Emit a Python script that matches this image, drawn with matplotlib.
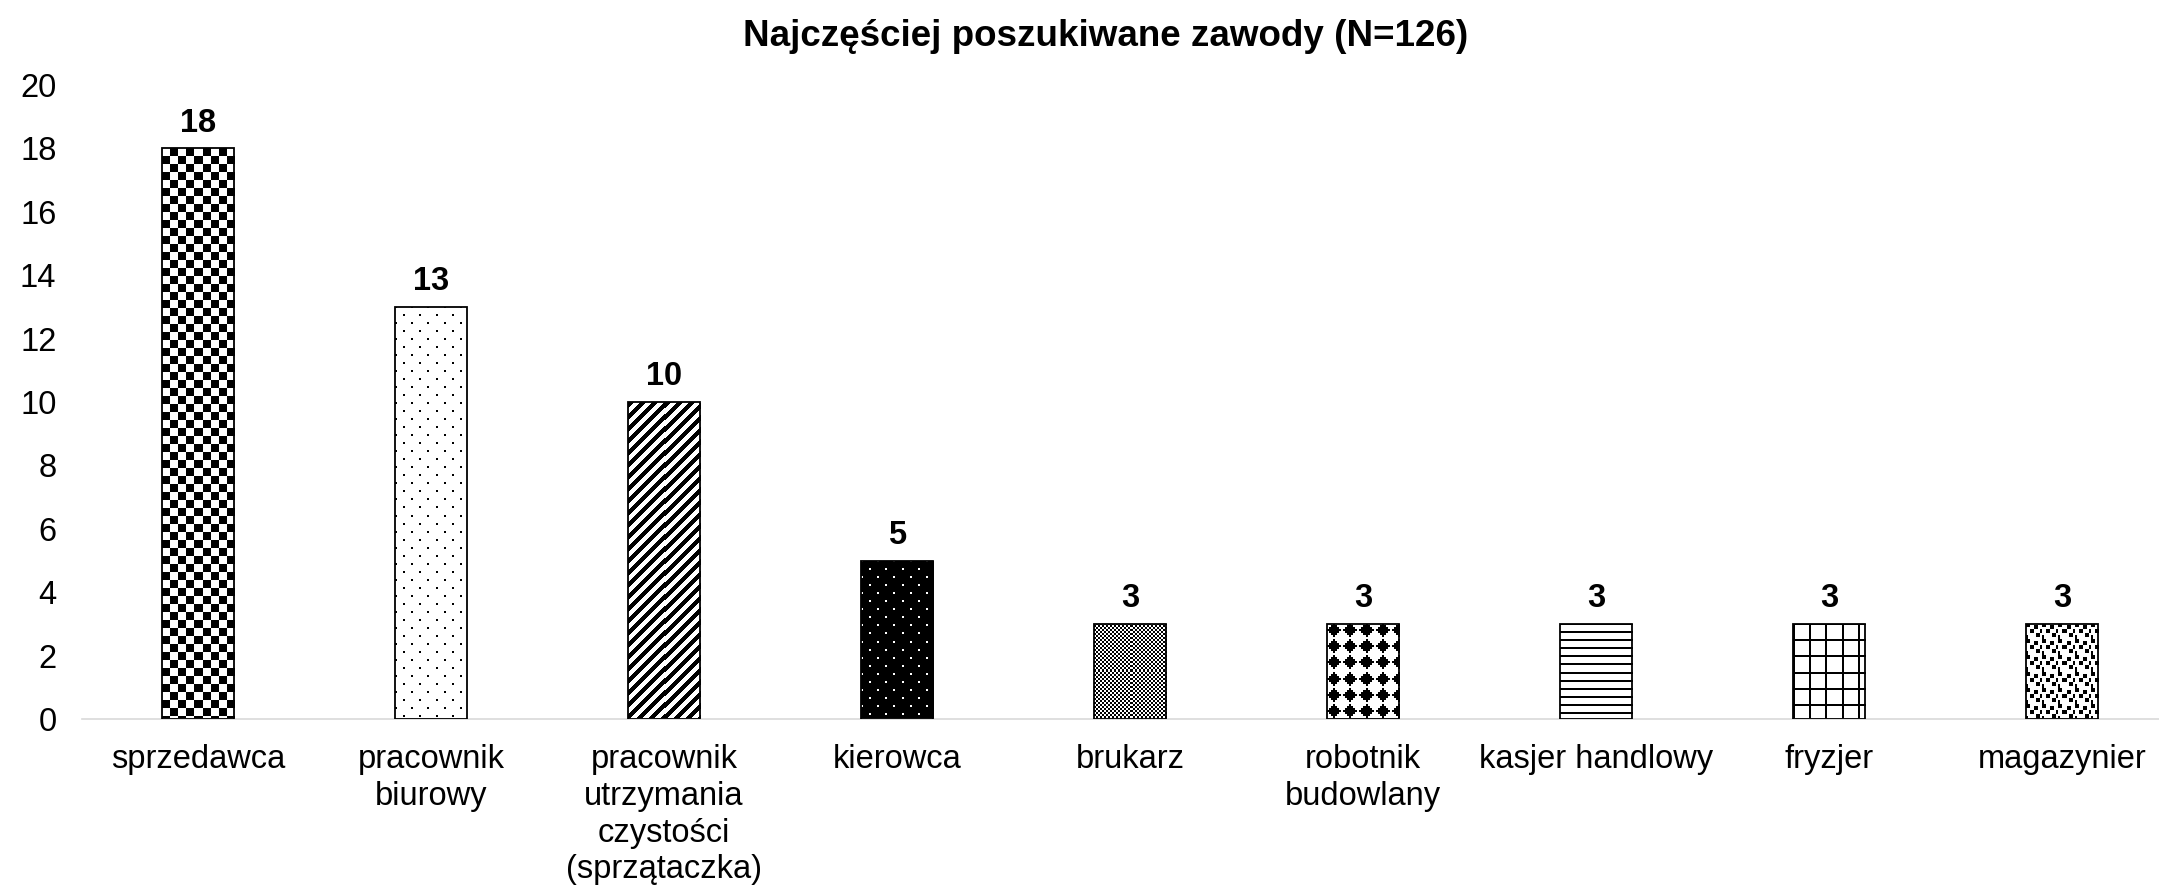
import numpy as np
import matplotlib
matplotlib.use("Agg")
import matplotlib.pyplot as plt

plt.rcParams["font.family"] = ["Liberation Sans", "DejaVu Sans"]

# data
categories = ["sprzedawca", "pracownik\nbiurowy", "pracownik\nutrzymania\nczystości\n(sprzątaczka)",
              "kierowca", "brukarz", "robotnik\nbudowlany", "kasjer handlowy", "fryzjer", "magazynier"]
values = [18, 13, 10, 5, 3, 3, 3, 3, 3]
title = "Najczęściej poszukiwane zawody (N=126)"
yticks = list(range(0, 21, 2))


# fill patterns (1 = black), pixel tiles like Excel pattern fills
def up(t, k=2):
    return np.kron(np.array(t), np.ones((k, k), dtype=int))


idx = np.indices((16, 16))
big_checker = (idx // 8).sum(0) % 2
dots = np.zeros((16, 16), int)
dots[0:2, 0:2] = 1
dots[8:10, 8:10] = 1
idx12 = np.indices((12, 12))
diag = ((idx12[0] + idx12[1]) % 12 < 6).astype(int)
dark_dots = 1 - dots
small_checker = (np.indices((4, 4)) // 2).sum(0) % 2
diamond = up([[0, 0, 0, 1, 0, 0, 0, 0],
              [0, 0, 1, 1, 1, 0, 0, 0],
              [0, 1, 1, 1, 1, 1, 0, 0],
              [1, 1, 1, 1, 1, 1, 1, 0],
              [0, 1, 1, 1, 1, 1, 0, 0],
              [0, 0, 1, 1, 1, 0, 0, 0],
              [0, 0, 0, 1, 0, 0, 0, 0],
              [0, 0, 0, 0, 0, 0, 0, 0]])
hlines = np.zeros((8, 8), int)
hlines[0:2, :] = 1
grid = np.zeros((16, 16), int)
grid[0:2, :] = 1
grid[:, 0:2] = 1
confetti = up([[1, 1, 0, 0, 0, 0, 0, 0],
               [1, 1, 0, 0, 1, 1, 0, 0],
               [0, 0, 0, 0, 1, 1, 0, 0],
               [0, 0, 1, 1, 0, 0, 0, 1],
               [0, 0, 1, 1, 0, 0, 0, 1],
               [0, 0, 0, 0, 0, 1, 1, 0],
               [1, 0, 0, 0, 0, 1, 1, 0],
               [1, 0, 0, 0, 0, 0, 0, 0]])
tiles = [big_checker, dots, diag, dark_dots, small_checker, diamond, hlines, grid, confetti]

W, H = 2159, 885
fig = plt.figure(figsize=(W / 100, H / 100), dpi=100)
ax = fig.add_axes([81.5 / W, (H - 719) / H, 2097 / W, (719 - 85) / H])

x = np.arange(len(categories))
ax.set_xlim(-0.5, len(categories) - 0.5)
ax.set_ylim(0, 20)
bars = ax.bar(x, values, width=0.31, facecolor="none", edgecolor="black", linewidth=1.3, zorder=3)

for bar, tile in zip(bars, tiles):
    x0, w, h = bar.get_x(), bar.get_width(), bar.get_height()
    px0, py0 = ax.transData.transform((x0, 0))
    px1, py1 = ax.transData.transform((x0 + w, h))
    nx, ny = int(round(px1 - px0)), int(round(py1 - py0))
    img = np.tile(tile, (ny // tile.shape[0] + 1, nx // tile.shape[1] + 1))[:ny, :nx]
    im = ax.imshow(img, cmap="gray_r", vmin=0, vmax=1, extent=(x0, x0 + w, 0, h),
                   aspect="auto", interpolation="nearest", zorder=2)
    im.set_clip_path(bar)

for xi, v in zip(x, values):
    ax.annotate(str(v), (xi, v), xytext=(0, 7), textcoords="offset points",
                ha="center", va="bottom", fontsize=23.5, fontweight="bold")

ax.set_xticks(x)
ax.set_xticklabels(categories, fontsize=23.5, linespacing=1.24)
ax.set_yticks(yticks)
ax.tick_params(axis="y", length=0, pad=18, labelsize=23.5)
ax.tick_params(axis="x", length=0, pad=18)
for s in ["top", "right", "left"]:
    ax.spines[s].set_visible(False)
ax.spines["bottom"].set_color("#d9d9d9")
ax.spines["bottom"].set_linewidth(1.2)

fig.text(1106 / W, 1 - 36 / H, title, ha="center", va="center", fontsize=26.5, fontweight="bold")

fig.savefig("out.png", dpi=100)
